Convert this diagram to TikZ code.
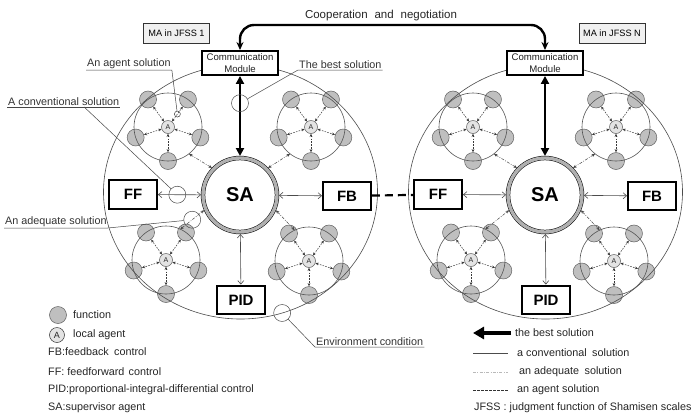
\documentclass[tikz,border=0pt]{standalone}
\usepackage{fontspec}
\setmainfont{Liberation Sans}
\usetikzlibrary{arrows.meta,shapes.geometric,calc}

% one cluster of functions around a local agent
\newcommand\agentgroup[2]{%
  \node[ringnode] (#1) at (#2) {};
  \foreach \ang/\k in {270/1,342/2,54/3,126/4,198/5}
    \node[fn] (#1-f\k) at (#1.\ang) {};
  \draw[ringline] (#1.center) circle[radius=34pt];
  \node[agent] (#1-a) at (#1.center) {A};
  \foreach \k in {1,...,5}
    \draw[agentlink] (#1-a) -- (#1-f\k);
}

% one multi-agent system: four clusters, supervisor, controllers, communication module
\newcommand\mainsystem[1]{%
  \agentgroup{#1ul}{168,127}
  \agentgroup{#1ur}{311,127}
  \agentgroup{#1ll}{166,260}
  \agentgroup{#1lr}{309,261}
  \node[bigring] (#1big) at (240.5,192) {};
  \node[supervisor] (#1sa) at (240,195) {SA};
  \node[commbox] (#1cm) at (240,63) {Communication\\Module};
  \node[ctrl] (#1ff) at (133,194.5) {FF};
  \node[ctrl] (#1fb) at (347,196) {FB};
  \node[ctrl] (#1pid) at (241,300) {PID};
  \draw[bestlink] (#1cm) -- (#1sa);
  \draw[convlink] (#1ff) -- (#1sa);
  \draw[convlink] (#1sa) -- (#1fb);
  \draw[convlink] (#1sa) -- (#1pid);
  \draw[adequate] (#1ul.308) -- (#1sa.136);
  \draw[adequate] (#1ur.232) -- (#1sa.44);
  \draw[adequate] (#1ll.65) -- (#1sa.203);
  \draw[adequate] (#1lr.115) -- (#1sa.337);
}

\begin{document}
\begin{tikzpicture}[x=1pt,y=-1pt,
  fn/.style={circle,draw=gray!75!black,fill=gray!50,minimum size=17pt,inner sep=0pt,line width=0.5pt},
  agent/.style={circle,draw=gray!70!black,fill=gray!22,minimum size=13pt,inner sep=0pt,line width=0.5pt,
    font=\fontsize{7}{7}\selectfont,text=gray!30!black},
  ringnode/.style={circle,minimum size=68pt,inner sep=0pt,outer sep=0pt},
  ringline/.style={draw=gray!65!black,line width=0.6pt},
  agentlink/.style={draw=gray!45!black,line width=0.5pt,dash pattern=on 1.6pt off 1.2pt,
    {Stealth[length=3.2pt,width=2.8pt]}-{Stealth[length=3.2pt,width=2.8pt]}},
  adequate/.style={draw=gray!55!black,line width=0.5pt,dash pattern=on 3pt off 1.4pt on 0.8pt off 1.4pt,
    {Stealth[length=3.5pt,width=3pt]}-{Stealth[length=3.5pt,width=3pt]}},
  convlink/.style={draw=gray!60!black,line width=0.6pt,
    {Straight Barb[length=3.5pt,width=6pt]}-{Straight Barb[length=3.5pt,width=6pt]}},
  bestlink/.style={draw=black,line width=2.6pt,
    {Triangle[length=8pt,width=8pt]}-{Triangle[length=8pt,width=8pt]}},
  bigring/.style={ellipse,draw=gray!60!black,line width=0.6pt,minimum width=274pt,minimum height=254pt,
    inner sep=0pt,outer sep=0pt},
  supervisor/.style={circle,minimum size=74pt,draw=black,line width=0.5pt,double=gray!62,double distance=3.4pt,
    outer sep=2pt,inner sep=0pt,font=\fontsize{20}{20}\selectfont\bfseries},
  commbox/.style={draw=black,line width=2.4pt,fill=white,minimum width=75.5pt,minimum height=23.5pt,inner sep=0pt,
    align=center,font=\fontsize{9.6}{12}\selectfont,text=gray!25!black},
  ctrl/.style={draw=black,line width=2.4pt,fill=white,minimum width=47.5pt,minimum height=28.5pt,inner sep=0pt,
    font=\fontsize{15}{15}\selectfont\bfseries},
  tagbox/.style={draw=gray!40!black,fill=gray!12,line width=0.7pt,minimum width=66pt,minimum height=20pt,inner sep=0pt,
    font=\fontsize{9.2}{10}\selectfont},
  marker/.style={circle,draw=gray!60!black,line width=0.5pt,minimum size=17pt,inner sep=0pt},
  tinymark/.style={circle,draw=gray!50!black,line width=0.5pt,minimum size=6pt,inner sep=0pt},
  leader/.style={draw=gray!55!black,line width=0.5pt},
  lbl/.style={text=black!80,inner sep=1pt,font=\fontsize{10.8}{12}\selectfont},
  keytext/.style={text=black!85,inner sep=1pt,font=\fontsize{10.8}{12}\selectfont},
  coop/.style={draw=black,line width=2.4pt,rounded corners=14pt,
    {Stealth[length=8pt,width=7pt]}-{Stealth[length=8pt,width=7pt]}},
  linkdash/.style={draw=black,line width=2.2pt,dash pattern=on 8pt off 5pt},
]
\path[use as bounding box,fill=white] (0,0) rectangle (693,416);

% the two systems
\mainsystem{L}
\begin{scope}[xshift=305pt]
  \mainsystem{R}
\end{scope}

% link between the systems
\draw[linkdash] (Lfb) -- (Rff);

% cooperation between the communication modules
\coordinate (coopturn) at (390,25);
\draw[coop] (Lcm.north) |- (coopturn) -| (Rcm.north);
\node[font=\fontsize{11.5}{12}\selectfont,text=black!85] (cooplbl) at (381,16)
  {Cooperation\hspace{0.6em}and\hspace{0.6em}negotiation};

% system tags
\node[tagbox] (maL) at (176.5,33.5) {MA in JFSS 1};
\node[tagbox] (maR) at (612,33) {MA in JFSS N};

% markers on the left system
\path (Lul-a) -- node[pos=0.5,tinymark] (agentmark) {} (Lul-f3);
\path (Lcm) -- node[pos=0.34,marker] (bestmark) {} (Lsa);
\path (Lff) -- node[pos=0.45,marker] (convmark) {} (Lsa);
\path (Lll.65) -- node[pos=0.5,marker] (adqmark) {} (Lsa.203);
\node[marker] (envmark) at (Lbig.289) {};

% annotations
\node[lbl,anchor=south west] (agentlbl) at (86,70) {An agent solution};
\draw[leader] (agentlbl.south west) -- (agentlbl.south east) -- (agentmark);

\node[lbl,anchor=south west] (convlbl) at (7,107) {A conventional solution};
\draw[leader] (convlbl.south west) -- (convlbl.south east);
\draw[leader] ($(convlbl.south west)!0.68!(convlbl.south east)$) -- (convmark);

\node[lbl,anchor=south west] (bestlbl) at (298,70) {The best solution};
\draw[leader] (bestmark) -- (bestlbl.south west) -- (bestlbl.south east);

\node[lbl,anchor=south west] (adqlbl) at (4,228) {An adequate solution};
\draw[leader] (adqlbl.south west) -- (adqlbl.south east) -- (adqmark);

\node[lbl,anchor=south west] (envlbl) at (315,347) {Environment condition};
\draw[leader] (envmark) -- (envlbl.south west) -- (envlbl.south east);

% legend, left column
\node[fn] (keyfn) at (58,315) {};
\node[keytext,anchor=west] (keyfntext) at (72,315) {function};
\node[agent,minimum size=15pt,draw=black!80,font=\fontsize{9}{9}\selectfont] (keyagent) at (57,335) {A};
\node[keytext,anchor=west] (keyagenttext) at (72,335) {local agent};
\node[keytext,anchor=west] (keyfb) at (47,352) {FB:feedback\hspace{0.5em}control};
\node[keytext,anchor=west] (keyff) at (47,372) {FF: feedforward\hspace{0.4em}control};
\node[keytext,anchor=west] (keypid) at (47,390) {PID:proportional-integral-differential control};
\node[keytext,anchor=west] (keysa) at (47,408) {SA:supervisor agent};

% legend, right column
\coordinate (kbestA) at (511,333); \coordinate (kbestB) at (473,333);
\draw[line width=4.5pt,-{Triangle[length=11pt,width=12pt]}] (kbestA) -- (kbestB);
\node[keytext,anchor=west] (kbest) at (514,333) {the best solution};
\coordinate (kconvA) at (473,353); \coordinate (kconvB) at (508,353);
\draw[draw=gray!60!black,line width=0.6pt] (kconvA) -- (kconvB);
\node[keytext,anchor=west] (kconv) at (516,353) {a conventional\hspace{0.5em}solution};
\coordinate (kadqA) at (473,372); \coordinate (kadqB) at (508,372);
\draw[draw=gray!55,line width=0.6pt,dash pattern=on 3pt off 1.4pt on 0.8pt off 1.4pt] (kadqA) -- (kadqB);
\node[keytext,anchor=west] (kadq) at (518,372) {an adequate\hspace{0.5em}solution};
\coordinate (kagA) at (473,390); \coordinate (kagB) at (508,390);
\draw[draw=black!80,line width=0.6pt,dash pattern=on 2.5pt off 1.5pt] (kagA) -- (kagB);
\node[keytext,anchor=west] (kag) at (516,390) {an agent solution};
\node[keytext,anchor=west] (kjfss) at (473,408) {JFSS : judgment function of Shamisen scales};
\end{tikzpicture}
\end{document}
